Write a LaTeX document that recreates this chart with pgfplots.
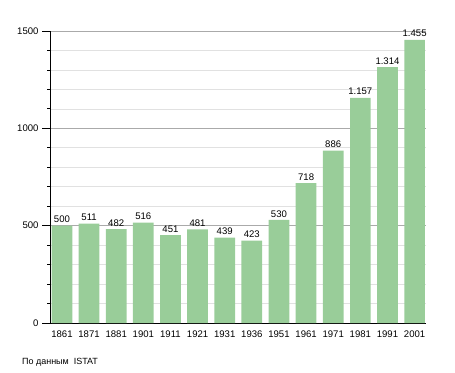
\documentclass[border=0pt]{standalone}
\usepackage{pgfplots}
\pgfplotsset{compat=1.18}
\usepackage{fontspec}
\setmainfont{Liberation Sans}
\definecolor{barg}{RGB}{153,205,153}
\definecolor{majg}{RGB}{170,170,170}
\definecolor{ming}{RGB}{225,225,225}
\begin{document}
\begin{tikzpicture}
\useasboundingbox (0,0) rectangle (455bp,373bp);
\begin{axis}[
  at={(50bp,50bp)}, anchor=south west,
  scale only axis, width=376bp, height=292bp,
  ybar, bar width=20.7bp,
  xmin=-0.44, xmax=13.42, ymin=0, ymax=1500,
  xtick=data,
  xticklabels={1861,1871,1881,1901,1911,1921,1931,1936,1951,1961,1971,1981,1991,2001},
  x tick label style={font=\fontsize{9.6}{11}\selectfont, yshift=3.5bp},
  major x tick style={draw=none},
  ytick={0,500,1000,1500},
  minor y tick num=4,
  y tick label style={font=\fontsize{9.6}{11}\selectfont, /pgf/number format/1000 sep={}},
  /pgf/number format/assume math mode=true,
  tick align=outside,
  major tick length=8bp, minor tick length=3bp,
  ytick pos=left,
  axis x line*=bottom, axis y line*=left,
  axis line style={black, line width=0.8pt},
  y tick style={black, line width=0.8pt},
  ymajorgrids, yminorgrids,
  major grid style={majg, line width=0.6pt},
  minor grid style={ming, line width=0.6pt},
  nodes near coords={\pgfmathprintnumber[1000 sep={.}, assume math mode=true]{\pgfplotspointmeta}},
  every node near coord/.append style={font=\fontsize{9.6}{11}\selectfont, black, inner sep=2.5pt},
  clip=false,
]
\addplot[fill=barg, draw=none] coordinates {
(0,500) (1,511) (2,482) (3,516) (4,451) (5,481) (6,439) (7,423)
(8,530) (9,718) (10,886) (11,1157) (12,1314) (13,1455)
};
\end{axis}
\node[anchor=west, font=\fontsize{9}{10}\selectfont, inner sep=0] at (22bp,11bp) {По данным\ \ ISTAT};
\end{tikzpicture}
\end{document}
